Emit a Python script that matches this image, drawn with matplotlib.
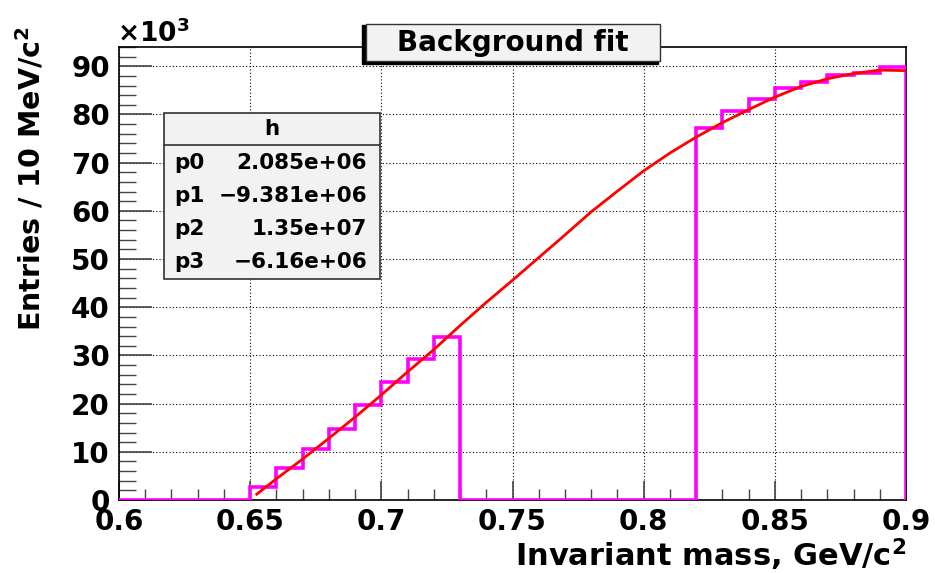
import matplotlib
matplotlib.use("Agg")
import matplotlib.pyplot as plt
from matplotlib.patches import Rectangle
from matplotlib.ticker import MultipleLocator

# wide bold sans to match the stretched Helvetica of the original
plt.rcParams['font.family'] = ['DejaVu Sans']
plt.rcParams['font.weight'] = 'bold'
plt.rcParams['mathtext.default'] = 'bf'

# histogram: 30 bins of 10 MeV between 0.6 and 0.9 GeV (values in units of 10^3)
edges = [0.60 + 0.01 * i for i in range(31)]
counts = [0, 0, 0, 0, 0,
          2.6, 6.6, 10.6, 14.8, 19.8, 24.4, 29.3, 33.9,
          0, 0, 0, 0, 0, 0, 0, 0, 0,
          77.2, 80.8, 83.2, 85.5, 86.8, 88.1, 88.7, 89.8]

# fitted background curve
fit_x = [0.6525, 0.66, 0.67, 0.68, 0.69, 0.70, 0.71, 0.72, 0.73, 0.74, 0.75,
         0.76, 0.77, 0.78, 0.79, 0.80, 0.81, 0.82, 0.83, 0.84, 0.85, 0.86,
         0.87, 0.88, 0.89, 0.90]
fit_y = [1.2, 4.4, 8.5, 12.8, 17.2, 21.8, 26.6, 31.2, 36.2, 41.0, 45.6,
         50.3, 55.0, 59.8, 64.1, 68.3, 72.0, 75.3, 78.3, 81.0, 83.6, 85.8,
         87.4, 88.5, 89.2, 89.1]

par_names = ["p0", "p1", "p2", "p3"]
par_values = ["2.085e+06", "\u22129.381e+06", "1.35e+07", "\u22126.16e+06"]

W, H = 935, 573
fig = plt.figure(figsize=(W / 100, H / 100), dpi=100)
ax = fig.add_axes([119 / W, 1 - 500 / H, (906 - 119) / W, (500 - 47) / H])

ax.stairs(counts, edges, color='#ff00ff', lw=2.6, zorder=3)
ax.plot(fit_x, fit_y, color='red', lw=2, zorder=4)

ax.set_xlim(0.6, 0.9)
ax.set_ylim(0, 94)
ax.xaxis.set_major_locator(MultipleLocator(0.05))
ax.xaxis.set_minor_locator(MultipleLocator(0.01))
ax.yaxis.set_major_locator(MultipleLocator(10))
ax.yaxis.set_minor_locator(MultipleLocator(2))
ax.set_xticks([0.6, 0.65, 0.7, 0.75, 0.8, 0.85, 0.9])
ax.set_xticklabels(["0.6", "0.65", "0.7", "0.75", "0.8", "0.85", "0.9"])
ax.grid(True, which='major', color='black', linestyle=(0, (1, 2)), lw=0.8)
ax.tick_params(axis='both', which='major', direction='in', labelsize=20,
               width=1.2, color='#444444')
ax.tick_params(axis='y', which='major', length=24, pad=6.5)
ax.tick_params(axis='y', which='minor', direction='in', length=12, width=1.0, color='#444444')
ax.tick_params(axis='x', which='major', length=14, pad=5.5)
ax.tick_params(axis='x', which='minor', direction='in', length=8, width=1.0, color='#444444')
for lab in ax.get_xticklabels() + ax.get_yticklabels():
    lab.set_fontweight('bold')
for sp in ax.spines.values():
    sp.set_linewidth(1.2)

ax.set_xlabel("Invariant mass, GeV/c$^2$", fontsize=22, fontweight='bold',
              ha='right', va='center')
ax.xaxis.set_label_coords(1.0, -0.121)
ax.set_ylabel("Entries / 10 MeV/c$^2$", fontsize=20.5, fontweight='bold',
              ha='center', va='center')
ax.yaxis.set_label_coords(-0.113, 0.709)

fig.text(117 / W, 1 - 42 / H, "\u00d710$^3$", fontsize=19, fontweight='bold',
         ha='left', va='baseline')

# title box with shadow
fig.patches.append(Rectangle((362 / W, 1 - 64 / H), 296 / W, 39 / H,
                             transform=fig.transFigure, facecolor='black',
                             edgecolor='black', zorder=5))
fig.patches.append(Rectangle((366 / W, 1 - 61 / H), 294 / W, 37 / H,
                             transform=fig.transFigure, facecolor='#f2f2f2',
                             edgecolor='#333333', lw=1, zorder=6))
fig.text(513 / W, 1 - 43 / H, "Background fit", fontsize=20, fontweight='bold',
         ha='center', va='center', zorder=7)

# stats box
x0, x1, y0, y1 = 164, 380, 113, 279
fig.patches.append(Rectangle((x0 / W, 1 - y1 / H), (x1 - x0) / W, (y1 - y0) / H,
                             transform=fig.transFigure, facecolor='#f2f2f2',
                             edgecolor='#333333', lw=1.2, zorder=6))
fig.add_artist(plt.Line2D([x0 / W, x1 / W], [1 - 145 / H, 1 - 145 / H],
                          transform=fig.transFigure, color='#333333', lw=1.2, zorder=7))
fig.text((x0 + x1) / 2 / W, 1 - 129 / H, "h", fontsize=15.5, fontweight='bold',
         ha='center', va='center', zorder=8)
for i, (n, v) in enumerate(zip(par_names, par_values)):
    yy = 1 - (163 + i * 33) / H
    fig.text(174 / W, yy, n, fontsize=15.5, fontweight='bold', ha='left',
             va='center', zorder=8)
    fig.text(367 / W, yy, v, fontsize=15.5, fontweight='bold', ha='right',
             va='center', zorder=8)

fig.savefig("out.png", dpi=100)
